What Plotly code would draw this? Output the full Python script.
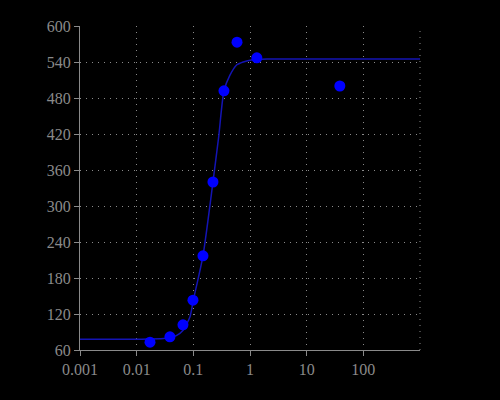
import plotly.graph_objects as go

# measured data points
conc = [0.0172, 0.0386, 0.0656, 0.0985, 0.148, 0.222, 0.347, 0.59, 1.32, 38.5]
response = [73, 82, 102, 143, 217, 340, 492, 573, 547, 500]

# fitted curve
fit_x = [0.001, 0.01, 0.03, 0.05, 0.066, 0.087, 0.1, 0.148, 0.222, 0.28,
         0.347, 0.443, 0.58, 0.76, 1.0, 2.0, 10, 100, 1000]
fit_y = [78, 78, 79, 84, 93, 115, 143, 217, 340, 415,
         492, 518, 535, 540, 543, 545, 545, 545, 545]

x_ticks = [0.001, 0.01, 0.1, 1, 10, 100]
x_ticktext = ['0.001', '0.01', '0.1', '1', '10', '100']
y_ticks = [60, 120, 180, 240, 300, 360, 420, 480, 540, 600]

grey = '#8a8a8a'
dots = '1px,5px'

fig = go.Figure()

fig.add_trace(go.Scatter(
    x=fit_x, y=fit_y,
    mode='lines',
    line=dict(color='#1414b4', width=1.5, shape='spline', smoothing=0.6),
    hoverinfo='skip'
))

fig.add_trace(go.Scatter(
    x=conc, y=response,
    mode='markers',
    marker=dict(color='#0000ff', size=11)
))

# dotted grid line at the right edge
fig.add_shape(type='line', xref='paper', yref='paper', x0=1, x1=1, y0=0, y1=1,
              line=dict(color=grey, width=1, dash=dots), layer='below')

axis_font = dict(family='Liberation Serif', size=16, color=grey)

fig.update_layout(
    width=500, height=400,
    showlegend=False,
    paper_bgcolor='black',
    plot_bgcolor='black',
    margin=dict(l=80, r=80, t=26, b=50),
    xaxis=dict(
        type='log', range=[-3, 3],
        tickvals=x_ticks, ticktext=x_ticktext,
        showline=True, linecolor=grey, linewidth=1,
        ticks='outside', ticklen=5, tickcolor=grey,
        showgrid=True, gridcolor=grey, griddash=dots, gridwidth=1,
        zeroline=False, tickfont=axis_font
    ),
    yaxis=dict(
        range=[60, 600],
        tickvals=y_ticks,
        showline=True, linecolor=grey, linewidth=1,
        ticks='outside', ticklen=5, tickcolor=grey,
        showgrid=True, gridcolor=grey, griddash=dots, gridwidth=1,
        zeroline=False, tickfont=axis_font
    )
)

fig.write_html("out.html", config={'displayModeBar': False},
               post_script="document.body.style.margin='0';"
                           "document.body.style.background='black';")
